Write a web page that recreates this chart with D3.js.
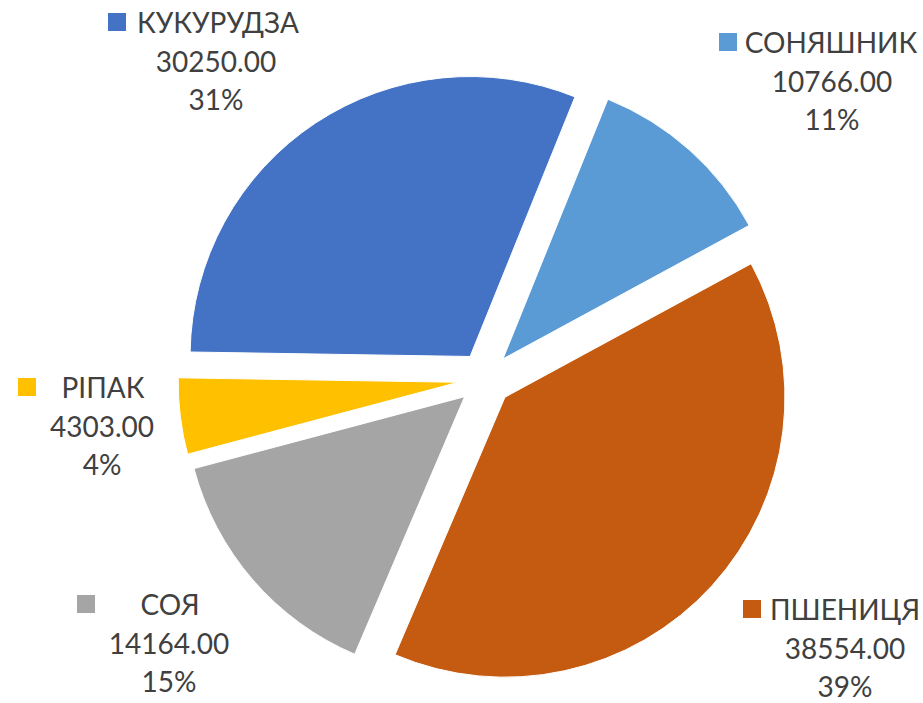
<!DOCTYPE html>
<html>
<head>
<meta charset="utf-8">
<script src="https://cdn.jsdelivr.net/npm/d3@7"></script>
<style>
  html, body { margin: 0; padding: 0; background: #fff; }
  svg { display: block; }
</style>
</head>
<body>
<svg id="chart" width="923" height="703"></svg>
<script>
// ---- data ----
const categories = ["СОНЯШНИК", "ПШЕНИЦЯ", "СОЯ", "РІПАК", "КУКУРУДЗА"];
const values = [10766, 38554, 14164, 4303, 30250];
const colors = ["#5B9BD5", "#C55A11", "#A5A5A5", "#FFC000", "#4472C4"];

// ---- layout (label anchors, not data) ----
const labelLayout = {
  "КУКУРУДЗА": { keyX: 108, nameX: 218, cx: 216, y: 33 },
  "СОНЯШНИК":  { keyX: 719, nameX: 831, cx: 832, y: 53 },
  "РІПАК":     { keyX: 18,  nameX: 103, cx: 102, y: 398 },
  "СОЯ":       { keyX: 77,  nameX: 170, cx: 169, y: 615 },
  "ПШЕНИЦЯ":   { keyX: 743, nameX: 845, cx: 845, y: 620 }
};

const W = 923, H = 703;
const cx = 485, cy = 379, R = 280, explode = 27;
const lineH = 38.5;

const svg = d3.select("#chart");
const total = d3.sum(values);

// Percentages rounded to sum to 100 (largest remainder)
const raw = values.map(v => v / total * 100);
const fl = raw.map(Math.floor);
let remain = 100 - d3.sum(fl);
const order = raw.map((r, i) => [r - Math.floor(r), i]).sort((a, b) => b[0] - a[0]);
const pct = fl.slice();
for (let k = 0; k < remain; k++) pct[order[k][1]] += 1;

const data = categories.map((c, i) => ({ cat: c, value: values[i], color: colors[i], pct: pct[i] }));

const pie = d3.pie().value(d => d.value).sort(null)
  .startAngle(22 * Math.PI / 180)
  .endAngle(22 * Math.PI / 180 + 2 * Math.PI);
const arc = d3.arc().innerRadius(0).outerRadius(R);

const g = svg.append("g").attr("transform", `translate(${cx},${cy})`);
g.selectAll("path").data(pie(data)).join("path")
  .attr("d", arc)
  .attr("fill", d => d.data.color)
  .attr("stroke", "#fff")
  .attr("stroke-width", 1)
  .attr("transform", d => {
    const a = (d.startAngle + d.endAngle) / 2;
    return `translate(${explode * Math.sin(a)},${-explode * Math.cos(a)})`;
  });

const fmtVal = d3.format(".2f");
const font = "Lato, 'Open Sans', sans-serif";
const labels = svg.append("g").attr("font-family", font).attr("font-size", 28).attr("fill", "#404040");

data.forEach(d => {
  const L = labelLayout[d.cat];
  labels.append("rect")
    .attr("x", L.keyX).attr("y", L.y - 20)
    .attr("width", 18).attr("height", 18)
    .attr("fill", d.color);
  labels.append("text").attr("x", L.nameX).attr("y", L.y)
    .attr("text-anchor", "middle").text(d.cat);
  labels.append("text").attr("x", L.cx).attr("y", L.y + lineH)
    .attr("text-anchor", "middle").text(fmtVal(d.value));
  labels.append("text").attr("x", L.cx).attr("y", L.y + 2 * lineH)
    .attr("text-anchor", "middle").text(d.pct + "%");
});
</script>
</body>
</html>
